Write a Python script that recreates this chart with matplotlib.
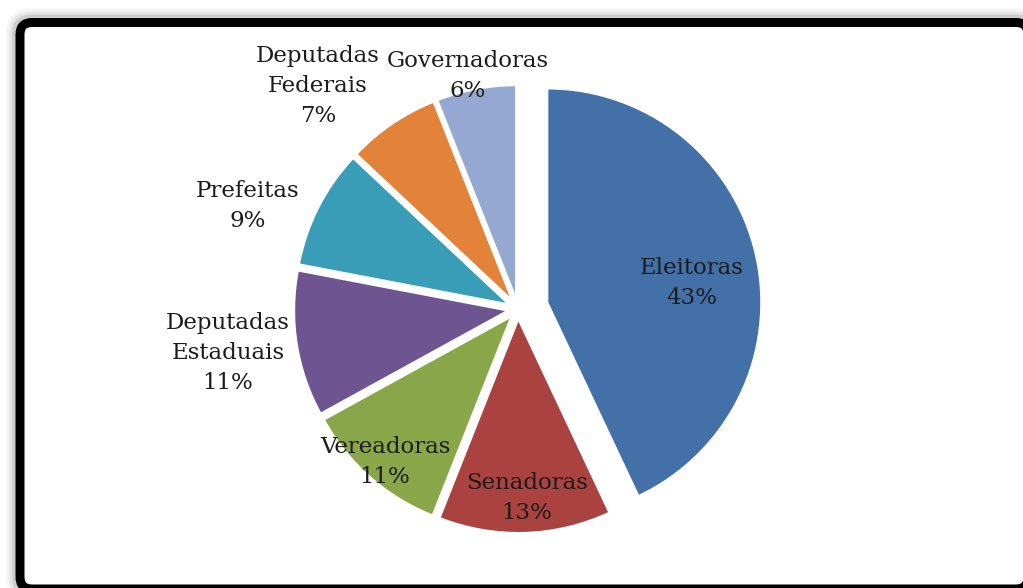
import numpy as np
import matplotlib
matplotlib.use("Agg")
import matplotlib.pyplot as plt
from matplotlib.patches import FancyBboxPatch

# Participação feminina por categoria (%)
categorias = ["Eleitoras", "Senadoras", "Vereadoras", "Deputadas\nEstaduais",
              "Prefeitas", "Deputadas\nFederais", "Governadoras"]
percentuais = [43, 13, 11, 11, 9, 7, 6]

cores = ["#4470A8", "#AA423F", "#89A648", "#6E5491",
         "#3A9DB7", "#E3833A", "#94A8D2"]

W, H = 1023, 588

# label centres in pixels (from top-left)
pos_rotulos = [(692, 283), (527, 498), (385, 462), (228, 353),
               (248, 206), (318, 86), (468, 76)]

fig = plt.figure(figsize=(W / 100, H / 100), dpi=100)
fig.patch.set_facecolor("white")
ax = fig.add_axes([0, 0, 1, 1])

centro = (518, H - 309)
raio = 214
explode = [30, 10, 10, 10, 10, 10, 10]

ax.pie(percentuais, explode=explode, colors=cores, startangle=90,
       counterclock=False, radius=raio, center=centro,
       wedgeprops=dict(edgecolor="white", linewidth=1.5, zorder=2))

for cat, p, (px, py) in zip(categorias, percentuais, pos_rotulos):
    ax.text(px, H - py, f"{cat}\n{p}%", ha="center", va="center",
            fontsize=16.5, family="DejaVu Serif", color="#1c1c1c",
            linespacing=1.45, zorder=3)

# moldura com sombra difusa por fora
x0, y0, x1, y1 = 20, -1, 1028, H - 22.5
for pad, a in [(14, 0.04), (11, 0.06), (8, 0.10)]:
    ax.add_patch(FancyBboxPatch((x0 - pad, y0 - pad), x1 - x0 + 2 * pad,
                                y1 - y0 + 2 * pad,
                                boxstyle=f"round,pad=0,rounding_size={12 + pad}",
                                facecolor="black", edgecolor="none",
                                alpha=a, zorder=0.1))
ax.add_patch(FancyBboxPatch((x0, y0), x1 - x0, y1 - y0,
                            boxstyle="round,pad=0,rounding_size=12",
                            facecolor="white", edgecolor="black",
                            linewidth=9 * 0.72, zorder=0.5))

ax.set_xlim(0, W)
ax.set_ylim(0, H)
ax.set_aspect("equal")
ax.axis("off")

fig.savefig("out.png", dpi=100)
